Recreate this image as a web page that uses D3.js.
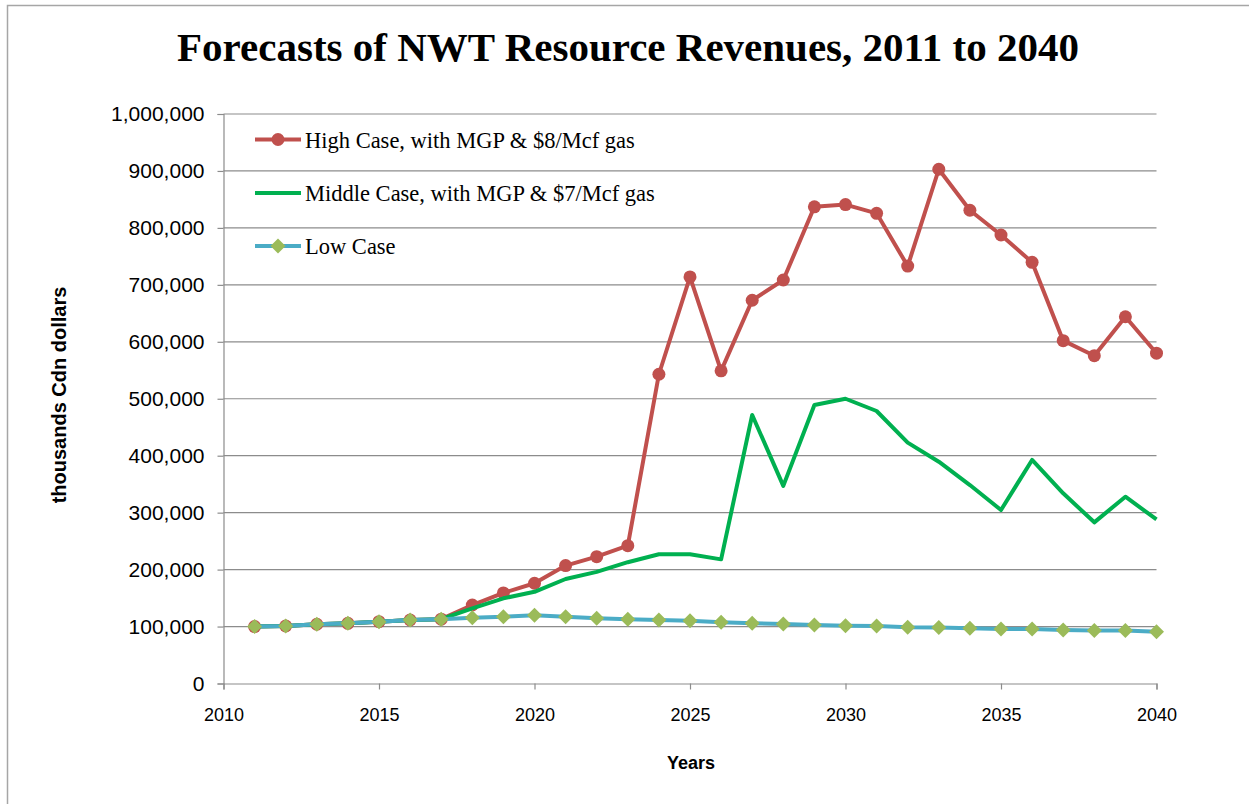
<!DOCTYPE html>
<html><head><meta charset="utf-8">
<script src="https://cdn.jsdelivr.net/npm/d3@7"></script>
<style>body{margin:0;background:#fff}svg{display:block}</style>
</head><body>
<svg id="c" width="1249" height="804"></svg>
<script>
const years = d3.range(2011, 2041);
const highCase = [100000,101000,104000,105700,108500,111500,113000,137800,159000,176000,207000,222700,242000,543000,714000,549000,673000,708500,837000,841000,825600,733000,903000,831000,787500,739600,602000,575600,644000,580000];
const middleCase = [100000,101000,104000,105700,108500,111500,113000,132000,149600,161000,183500,196000,213000,227000,227000,218000,471500,347000,489000,500000,478500,423000,389500,348500,304700,392500,334000,283000,328000,288000];
const lowCase = [100000,101000,104000,105700,108500,111500,113000,115500,117000,120000,117000,114500,113000,111500,110000,107500,105700,104500,102700,101500,101000,98700,98300,97000,95700,95700,94000,93000,93000,91000];
const xTicks = [2010,2015,2020,2025,2030,2035,2040];
const yTicks = d3.range(0, 1000001, 100000);
const seriesNames = ["High Case, with MGP & $8/Mcf gas","Middle Case, with MGP & $7/Mcf gas","Low Case"];

const svg = d3.select("#c");
svg.append("rect").attr("x",7.5).attr("y",5.5).attr("width",1260).attr("height",820)
  .attr("fill","#fff").attr("stroke","#a6a6a6").attr("stroke-width",1.5);

const L=223.5, R=1156.5, T=114, B=683.5;
const x = d3.scaleLinear().domain([2010,2040]).range([L,R]);
const y = d3.scaleLinear().domain([0,1000000]).range([B,T]);

svg.append("text").attr("x",628).attr("y",61).attr("text-anchor","middle")
  .attr("font-family","Liberation Serif").attr("font-weight","bold").attr("font-size",41)
  .text("Forecasts of NWT Resource Revenues, 2011 to 2040");

// gridlines
svg.append("g").selectAll("line").data(yTicks.filter(d=>d>0)).join("line")
  .attr("x1",L).attr("x2",R).attr("y1",d=>y(d)).attr("y2",d=>y(d))
  .attr("stroke","#8c8c8c").attr("stroke-width",1.2);

// y axis
const yAxis = svg.append("g").attr("transform",`translate(${L},0)`)
  .call(d3.axisLeft(y).tickValues(yTicks).tickSize(6).tickPadding(13).tickFormat(d3.format(",")));
yAxis.select(".domain").attr("stroke","#8c8c8c").attr("stroke-width",1.2);
yAxis.selectAll(".tick line").attr("stroke","#8c8c8c").attr("stroke-width",1.2);
yAxis.selectAll("text").attr("font-family","Liberation Sans").attr("font-size",21).attr("fill","#000");

// x axis
const xAxis = svg.append("g").attr("transform",`translate(0,${B})`)
  .call(d3.axisBottom(x).tickValues(xTicks).tickSize(6).tickPadding(19).tickFormat(d3.format("d")));
xAxis.select(".domain").attr("stroke","#8c8c8c").attr("stroke-width",1.2);
xAxis.selectAll(".tick line").attr("stroke","#8c8c8c").attr("stroke-width",1.2);
xAxis.selectAll("text").attr("font-family","Liberation Sans").attr("font-size",18).attr("fill","#000");

svg.append("text").attr("x",691).attr("y",769).attr("text-anchor","middle")
  .attr("font-family","Liberation Sans").attr("font-weight","bold").attr("font-size",18).text("Years");
svg.append("text").attr("transform","translate(66,395) rotate(-90)").attr("text-anchor","middle")
  .attr("font-family","Liberation Sans").attr("font-weight","bold").attr("font-size",20).text("thousands Cdn dollars");

const line = d3.line().x((d,i)=>x(years[i])).y(d=>y(d));
const diamond = s => `M0,${-s}L${s},0L0,${s}L${-s},0Z`;

// high case
svg.append("path").datum(highCase).attr("d",line).attr("fill","none").attr("stroke","#C0504D").attr("stroke-width",4).attr("stroke-linejoin","round");
svg.append("g").selectAll("circle").data(highCase).join("circle")
  .attr("cx",(d,i)=>x(years[i])).attr("cy",d=>y(d)).attr("r",6.5).attr("fill","#C0504D");
// middle
svg.append("path").datum(middleCase).attr("d",line).attr("fill","none").attr("stroke","#00B050").attr("stroke-width",4).attr("stroke-linejoin","round");
// low case on top
svg.append("path").datum(lowCase).attr("d",line).attr("fill","none").attr("stroke","#4BACC6").attr("stroke-width",4).attr("stroke-linejoin","round");
svg.append("g").selectAll("path").data(lowCase).join("path")
  .attr("transform",(d,i)=>`translate(${x(years[i])},${y(d)})`).attr("d",diamond(7.5)).attr("fill","#9BBB59");

// legend
const lg = svg.append("g");
const legY = [139.5, 193, 246];
const colors = ["#C0504D","#00B050","#4BACC6"];
seriesNames.forEach((n,i)=>{
  lg.append("line").attr("x1",255).attr("x2",301).attr("y1",legY[i]).attr("y2",legY[i])
    .attr("stroke",colors[i]).attr("stroke-width",4);
  if(i===0) lg.append("circle").attr("cx",278).attr("cy",legY[i]).attr("r",6.5).attr("fill","#C0504D");
  if(i===2) lg.append("path").attr("transform",`translate(278,${legY[i]})`).attr("d",diamond(7.5)).attr("fill","#9BBB59");
  lg.append("text").attr("x",305).attr("y",legY[i]+8).attr("font-family","Liberation Serif").attr("font-size",22.5)
    .text(n);
});
</script>
</body></html>
